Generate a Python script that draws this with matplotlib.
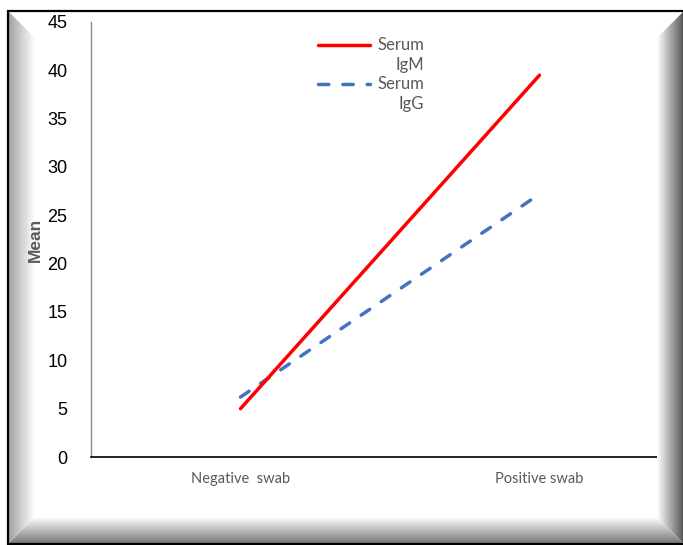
import numpy as np
import matplotlib
matplotlib.use("Agg")
import matplotlib.pyplot as plt
from matplotlib.patches import Polygon

# ---- data ----
categories = ["Negative  swab", "Positive swab"]
series_names = ["Serum\nIgM", "Serum\nIgG"]
igm_values = [5.0, 39.5]
igg_values = [6.2, 27.2]
y_ticks = [0, 5, 10, 15, 20, 25, 30, 35, 40, 45]
y_label = "Mean"

W, H = 683, 545
fig = plt.figure(figsize=(W / 100, H / 100), dpi=100)
fig.patch.set_facecolor("white")

# main axes (pixel geometry)
ax_l, ax_r, ax_t, ax_b = 91, 689, 22, 457
ax = fig.add_axes([ax_l / W, (H - ax_b) / H, (ax_r - ax_l) / W, (ax_b - ax_t) / H])
x = np.arange(len(categories))
ax.plot(x, igm_values, color="#FF0000", lw=2.5, solid_capstyle="round", zorder=3)
ax.plot(x, igg_values, color="#4472C4", lw=2.5, dashes=(3, 4),
        dash_capstyle="round", zorder=2)
ax.set_xlim(-0.5, 1.5)
ax.set_ylim(0, 45)
ax.set_yticks(y_ticks)
ax.set_yticklabels([str(v) for v in y_ticks], fontsize=13, family="Liberation Sans",
                   color="#000000")
ax.set_xticks(x)
ax.set_xticklabels(categories, fontsize=10.5, family="Lato", color="#595959")
ax.tick_params(axis="y", length=0, pad=17)
ax.tick_params(axis="x", length=0, pad=11)
for s in ["top", "right"]:
    ax.spines[s].set_visible(False)
ax.spines["left"].set_color("#8c8c8c")
ax.spines["left"].set_linewidth(1.0)
ax.spines["bottom"].set_color("#000000")
ax.spines["bottom"].set_linewidth(1.2)

# y label above the frame overlay
fig.text(35 / W, 1 - 240 / H, y_label, rotation=90, ha="center", va="center",
         fontsize=12.5, fontweight="bold", family="Liberation Sans",
         color="#595959", zorder=20)

# manual legend (handle aligned with first text line, text right-aligned)
colors = ["#FF0000", "#4472C4"]
styles = [dict(), dict(dashes=(3, 4), dash_capstyle="round")]
leg_y0 = [45, 84]
for name, c, st, yy in zip(series_names, colors, styles, leg_y0):
    fx0, fx1 = 318 / W, 370 / W
    fy = 1 - yy / H
    line = plt.Line2D([fx0, fx1], [fy, fy], transform=fig.transFigure, color=c,
                      lw=2.5, solid_capstyle="round", **st)
    fig.add_artist(line)
    for k, part in enumerate(name.split("\n")):
        fig.text(424 / W, 1 - (yy + 20 * k) / H, part, ha="right", va="center",
                 fontsize=12, family="Lato", color="#595959")

# bevel frame overlay
ov = fig.add_axes([0, 0, 1, 1], zorder=10)
ov.set_xlim(0, W)
ov.set_ylim(H, 0)
ov.axis("off")
ov.patch.set_alpha(0)
x0, x1, y0, y1, w = 8, 684, 11, 544, 27

def grad(poly, horizontal, c_start, c_end, extent):
    p = Polygon(poly, closed=True, facecolor="none", edgecolor="none")
    ov.add_patch(p)
    n = 256
    g = np.linspace(c_start, c_end, n)
    if horizontal:
        img = np.tile(g, (2, 1))
    else:
        img = np.tile(g[:, None], (1, 2))
    im = ov.imshow(img, cmap="gray", vmin=0, vmax=1, extent=extent,
                   origin="upper", aspect="auto", interpolation="bilinear", zorder=1)
    im.set_clip_path(p)

# left
grad([(x0, y0), (x0 + w, y0 + w), (x0 + w, y1 - w), (x0, y1)], True, 0.62, 1.0,
     (x0, x0 + w, y1, y0))
# right
grad([(x1, y0), (x1, y1), (x1 - w, y1 - w), (x1 - w, y0 + w)], True, 1.0, 0.33,
     (x1 - w, x1, y1, y0))
# bottom
grad([(x0, y1), (x1, y1), (x1 - w, y1 - w), (x0 + w, y1 - w)], False, 1.0, 0.45,
     (x0, x1, y1, y1 - w))
# outer black border
ov.add_patch(Polygon([(x0, y0), (x1, y0), (x1, y1), (x0, y1)], closed=True,
                     facecolor="none", edgecolor="black", lw=1.6, zorder=5))

fig.savefig("out.png", dpi=100, facecolor="white")
